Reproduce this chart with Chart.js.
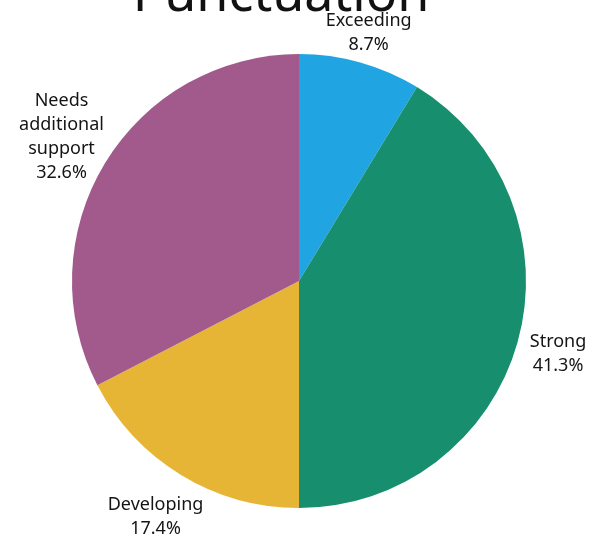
<!DOCTYPE html>
<html>
<head>
<meta charset="utf-8">
<title>Punctuation</title>
<script src="https://cdn.jsdelivr.net/npm/chart.js@4/dist/chart.umd.min.js"></script>
<style>
  html, body {
    margin: 0;
    padding: 0;
    background: #ffffff;
  }
  #wrap {
    width: 603px;
    height: 538px;
  }
</style>
</head>
<body>
<div id="wrap"><canvas id="chart"></canvas></div>
<script>
const TITLE = `Punctuation`;
const categories = [`Exceeding`, `Strong`, `Developing`, [`Needs`, `additional`, `support`]];
const shares = [8.7, 41.3, 17.4, 32.6];
const sliceColors = [`#20a5e2`, `#178e6d`, `#e6b535`, `#a15a8b`];

const LABEL_FONT = `18px "Noto Sans"`;
const LABEL_LINE = 24;
// how far past the rim each label block centre sits, slice by slice
const LABEL_PUSH = [31, 42, 49, 51];

// title sits above the pie, partly off the top of the canvas
const titlePlugin = {
  id: `pieTitle`,
  afterDraw(chart) {
    const ctx = chart.ctx;
    ctx.save();
    ctx.font = `52px "Noto Sans"`;
    ctx.fillStyle = `#111111`;
    ctx.textAlign = `center`;
    ctx.textBaseline = `alphabetic`;
    ctx.fillText(TITLE, 281, 11);
    ctx.restore();
  }
};

// category name + percent outside each slice, along its mid angle
const outsideLabels = {
  id: `outsideLabels`,
  afterDatasetsDraw(chart) {
    const ctx = chart.ctx;
    const meta = chart.getDatasetMeta(0);
    ctx.save();
    ctx.font = LABEL_FONT;
    ctx.fillStyle = `#141414`;
    ctx.textAlign = `center`;
    ctx.textBaseline = `middle`;

    meta.data.forEach((arc, i) => {
      const {x, y, startAngle, endAngle, outerRadius} = arc.getProps([`x`, `y`, `startAngle`, `endAngle`, `outerRadius`], true);
      const mid = (startAngle + endAngle) / 2;
      const dist = outerRadius + LABEL_PUSH[i];

      const name = categories[i];
      const lines = (Array.isArray(name) ? name : [name]).concat(`${shares[i].toFixed(1)}%`);
      const h = lines.length * LABEL_LINE;

      const cx = x + Math.cos(mid) * dist;
      const cy = y + Math.sin(mid) * dist;

      lines.forEach((line, k) => {
        ctx.fillText(line, cx, cy - h / 2 + LABEL_LINE * (k + 0.5));
      });
    });
    ctx.restore();
  }
};

const ctx = document.querySelector(`#chart`);

const pieChart = new Chart(ctx, {
  type: `pie`,
  plugins: [outsideLabels, titlePlugin],
  data: {
    labels: categories.map((c) => Array.isArray(c) ? c.join(` `) : c),
    datasets: [{
      data: shares,
      backgroundColor: sliceColors,
      borderWidth: 0
    }]
  },
  options: {
    responsive: true,
    maintainAspectRatio: false,
    animation: false,
    layout: {
      padding: {top: 54, bottom: 30, left: 72, right: 77}
    },
    plugins: {
      legend: {display: false},
      tooltip: {enabled: false},
      title: {display: false}
    }
  }
});
</script>
</body>
</html>
